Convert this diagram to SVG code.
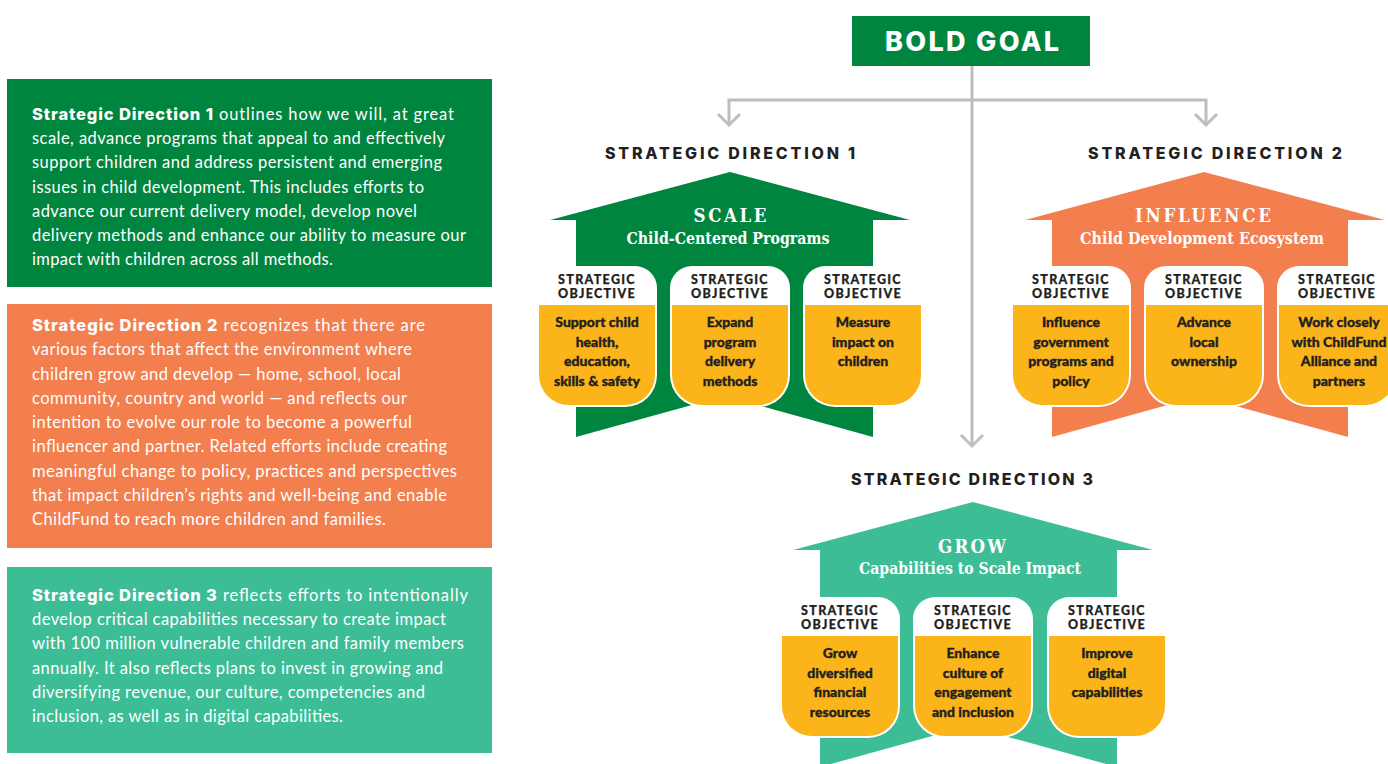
<svg xmlns="http://www.w3.org/2000/svg" xmlns:xlink="http://www.w3.org/1999/xlink" width="1388" height="764" viewBox="0 0 1388 764">
<style>
.para{font-family:Lato,"Liberation Sans",sans-serif;font-size:16.5px;fill:#ffffff;}
.pb{font-family:Inter,"Liberation Sans",sans-serif;font-weight:800;}
.sdh{font-family:Inter,"Liberation Sans",sans-serif;font-weight:800;font-size:16px;fill:#231f20;text-anchor:middle;}
.goal{font-family:Inter,"Liberation Sans",sans-serif;font-weight:800;font-size:27px;fill:#ffffff;text-anchor:middle;}
.ttl{font-family:"DejaVu Serif","Liberation Serif",serif;font-stretch:condensed;font-weight:bold;font-size:18.5px;fill:#ffffff;text-anchor:middle;}
.sub{font-family:"DejaVu Serif","Liberation Serif",serif;font-stretch:condensed;font-weight:bold;font-size:16.5px;fill:#ffffff;text-anchor:middle;}
.objh{font-family:Lato,"Liberation Sans",sans-serif;font-weight:900;font-size:12.5px;letter-spacing:1.3px;fill:#231f20;stroke:#231f20;stroke-width:0.25;text-anchor:middle;}
.objt{font-family:Lato,"Liberation Sans",sans-serif;font-weight:900;font-size:14px;fill:#231f20;stroke:#231f20;stroke-width:0.35;text-anchor:middle;}
.conn{fill:none;stroke:#bcbec0;stroke-width:3;}
.green{fill:#00853f;}
.orange{fill:#f37e4e;}
.teal{fill:#3cbd96;}
.objw{fill:#ffffff;}
.objy{fill:#fbb41a;}
</style>
<defs>
<marker id="chev" viewBox="-14 -14 28 28" markerWidth="28" markerHeight="28" refX="0" refY="0" orient="auto" markerUnits="userSpaceOnUse" overflow="visible">
<path d="M-11,-11 L0,0 L-11,11" fill="none" stroke="#bcbec0" stroke-width="3"/>
</marker>
<g id="objshape">
<path class="objw" d="M0,22 A22,22 0 0 1 22,0 H98 A22,22 0 0 1 120,22 V109 A32,32 0 0 1 88,141 H32 A32,32 0 0 1 0,109 Z"/>
<path class="objy" d="M2,39 H118 V109 A30,30 0 0 1 88,139 H32 A30,30 0 0 1 2,109 Z"/>
</g>
</defs>
<rect width="1388" height="764" fill="#ffffff"/>

<g id="desc-sd1">
<rect class="green" x="7" y="79" width="485" height="208"/>
<text class="para" x="32" y="120" textLength="422" lengthAdjust="spacing"><tspan class="pb">Strategic Direction 1</tspan> outlines how we will, at great</text>
<text class="para" x="32" y="144.2" textLength="413" lengthAdjust="spacing">scale, advance programs that appeal to and effectively</text>
<text class="para" x="32" y="168.4" textLength="410" lengthAdjust="spacing">support children and address persistent and emerging</text>
<text class="para" x="32" y="192.6" textLength="392" lengthAdjust="spacing">issues in child development. This includes efforts to</text>
<text class="para" x="32" y="216.8" textLength="385" lengthAdjust="spacing">advance our current delivery model, develop novel</text>
<text class="para" x="32" y="241" textLength="434" lengthAdjust="spacing">delivery methods and enhance our ability to measure our</text>
<text class="para" x="32" y="265.2" textLength="301" lengthAdjust="spacing">impact with children across all methods.</text>
</g>

<g id="desc-sd2">
<rect class="orange" x="7" y="304" width="485" height="244"/>
<text class="para" x="32" y="331" textLength="393" lengthAdjust="spacing"><tspan class="pb">Strategic Direction 2</tspan> recognizes that there are</text>
<text class="para" x="32" y="355.25" textLength="380" lengthAdjust="spacing">various factors that affect the environment where</text>
<text class="para" x="32" y="379.5" textLength="369" lengthAdjust="spacing">children grow and develop — home, school, local</text>
<text class="para" x="32" y="403.75" textLength="375" lengthAdjust="spacing">community, country and world — and reflects our</text>
<text class="para" x="32" y="428" textLength="380" lengthAdjust="spacing">intention to evolve our role to become a powerful</text>
<text class="para" x="32" y="452.25" textLength="415" lengthAdjust="spacing">influencer and partner. Related efforts include creating</text>
<text class="para" x="32" y="476.5" textLength="425" lengthAdjust="spacing">meaningful change to policy, practices and perspectives</text>
<text class="para" x="32" y="500.75" textLength="415" lengthAdjust="spacing">that impact children’s rights and well-being and enable</text>
<text class="para" x="32" y="525" textLength="354" lengthAdjust="spacing">ChildFund to reach more children and families.</text>
</g>

<g id="desc-sd3">
<rect class="teal" x="7" y="567" width="485" height="186"/>
<text class="para" x="32" y="601" textLength="436" lengthAdjust="spacing"><tspan class="pb">Strategic Direction 3</tspan> reflects efforts to intentionally</text>
<text class="para" x="32" y="625.2" textLength="414" lengthAdjust="spacing">develop critical capabilities necessary to create impact</text>
<text class="para" x="32" y="649.4" textLength="432" lengthAdjust="spacing">with 100 million vulnerable children and family members</text>
<text class="para" x="32" y="673.6" textLength="411" lengthAdjust="spacing">annually. It also reflects plans to invest in growing and</text>
<text class="para" x="32" y="697.8" textLength="393" lengthAdjust="spacing">diversifying revenue, our culture, competencies and</text>
<text class="para" x="32" y="722" textLength="311" lengthAdjust="spacing">inclusion, as well as in digital capabilities.</text>
</g>

<g id="connectors">
<path class="conn" d="M972,66 V446" marker-end="url(#chev)"/>
<path class="conn" d="M972,100 H729 V125" marker-end="url(#chev)"/>
<path class="conn" d="M972,100 H1206 V125" marker-end="url(#chev)"/>
</g>

<g id="bold-goal">
<rect class="green" x="852" y="16" width="238" height="50"/>
<text class="goal" x="972" y="50.5" textLength="174" lengthAdjust="spacing">BOLD GOAL</text>
</g>

<g id="sd1">
<text class="sdh" x="730" y="159" textLength="250" lengthAdjust="spacing">STRATEGIC DIRECTION 1</text>
<path class="green" d="M730,172 L910,220 H873 V437 L724.5,396 L576,437 V220 H550 Z"/>
<text class="ttl" x="730" y="222" textLength="73" lengthAdjust="spacing">SCALE</text>
<text class="sub" x="728" y="244" textLength="203" lengthAdjust="spacingAndGlyphs">Child-Centered Programs</text>
</g>

<g id="sd2">
<text class="sdh" x="1215" y="159" textLength="254" lengthAdjust="spacing">STRATEGIC DIRECTION 2</text>
<path class="orange" d="M1204,172 L1385,220 H1348 V437 L1200,396 L1052,437 V220 H1025 Z"/>
<text class="ttl" x="1203" y="222" textLength="136" lengthAdjust="spacing">INFLUENCE</text>
<text class="sub" x="1202" y="244" textLength="244" lengthAdjust="spacingAndGlyphs">Child Development Ecosystem</text>
</g>

<g id="sd3">
<text class="sdh" x="972" y="485" textLength="242" lengthAdjust="spacing">STRATEGIC DIRECTION 3</text>
<path class="teal" d="M973,502 L1153,550 H1117 V767 L968.5,726 L820,767 V550 H793 Z"/>
<text class="ttl" x="972" y="553" textLength="68" lengthAdjust="spacing">GROW</text>
<text class="sub" x="970" y="574" textLength="222" lengthAdjust="spacingAndGlyphs">Capabilities to Scale Impact</text>
</g>

<g id="obj-1-1" transform="translate(537,266)">
<use href="#objshape"/>
<text class="objh" x="60" y="18">STRATEGIC</text><text class="objh" x="60" y="32">OBJECTIVE</text>
<text class="objt" x="60" y="61">Support child</text><text class="objt" x="60" y="80.5">health,</text><text class="objt" x="60" y="100">education,</text><text class="objt" x="60" y="119.5">skills &amp; safety</text>
</g>
<g id="obj-1-2" transform="translate(670,266)">
<use href="#objshape"/>
<text class="objh" x="60" y="18">STRATEGIC</text><text class="objh" x="60" y="32">OBJECTIVE</text>
<text class="objt" x="60" y="61">Expand</text><text class="objt" x="60" y="80.5">program</text><text class="objt" x="60" y="100">delivery</text><text class="objt" x="60" y="119.5">methods</text>
</g>
<g id="obj-1-3" transform="translate(803,266)">
<use href="#objshape"/>
<text class="objh" x="60" y="18">STRATEGIC</text><text class="objh" x="60" y="32">OBJECTIVE</text>
<text class="objt" x="60" y="61">Measure</text><text class="objt" x="60" y="80.5">impact on</text><text class="objt" x="60" y="100">children</text>
</g>

<g id="obj-2-1" transform="translate(1011,266)">
<use href="#objshape"/>
<text class="objh" x="60" y="18">STRATEGIC</text><text class="objh" x="60" y="32">OBJECTIVE</text>
<text class="objt" x="60" y="61">Influence</text><text class="objt" x="60" y="80.5">government</text><text class="objt" x="60" y="100">programs and</text><text class="objt" x="60" y="119.5">policy</text>
</g>
<g id="obj-2-2" transform="translate(1144,266)">
<use href="#objshape"/>
<text class="objh" x="60" y="18">STRATEGIC</text><text class="objh" x="60" y="32">OBJECTIVE</text>
<text class="objt" x="60" y="61">Advance</text><text class="objt" x="60" y="80.5">local</text><text class="objt" x="60" y="100">ownership</text>
</g>
<g id="obj-2-3" transform="translate(1277,266)">
<use href="#objshape"/>
<text class="objh" x="60" y="18">STRATEGIC</text><text class="objh" x="60" y="32">OBJECTIVE</text>
<text class="objt" x="62" y="61">Work closely</text><text class="objt" x="62" y="80.5">with ChildFund</text><text class="objt" x="62" y="100">Alliance and</text><text class="objt" x="62" y="119.5">partners</text>
</g>

<g id="obj-3-1" transform="translate(780,597)">
<use href="#objshape"/>
<text class="objh" x="60" y="18">STRATEGIC</text><text class="objh" x="60" y="32">OBJECTIVE</text>
<text class="objt" x="60" y="61">Grow</text><text class="objt" x="60" y="80.5">diversified</text><text class="objt" x="60" y="100">financial</text><text class="objt" x="60" y="119.5">resources</text>
</g>
<g id="obj-3-2" transform="translate(913,597)">
<use href="#objshape"/>
<text class="objh" x="60" y="18">STRATEGIC</text><text class="objh" x="60" y="32">OBJECTIVE</text>
<text class="objt" x="60" y="61">Enhance</text><text class="objt" x="60" y="80.5">culture of</text><text class="objt" x="60" y="100">engagement</text><text class="objt" x="60" y="119.5">and inclusion</text>
</g>
<g id="obj-3-3" transform="translate(1047,597)">
<use href="#objshape"/>
<text class="objh" x="60" y="18">STRATEGIC</text><text class="objh" x="60" y="32">OBJECTIVE</text>
<text class="objt" x="60" y="61">Improve</text><text class="objt" x="60" y="80.5">digital</text><text class="objt" x="60" y="100">capabilities</text>
</g>
</svg>
